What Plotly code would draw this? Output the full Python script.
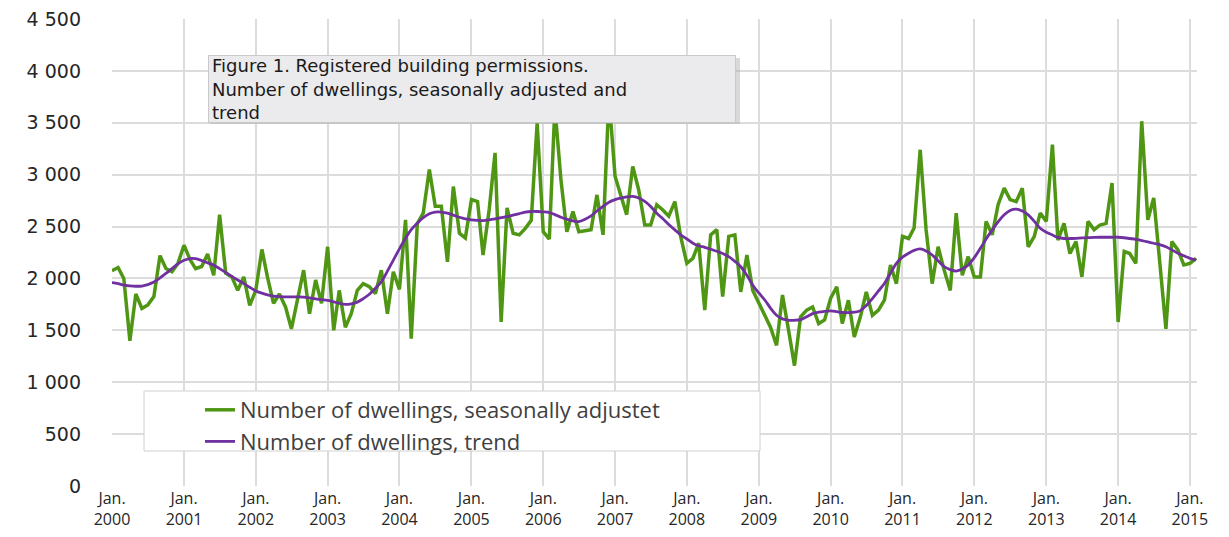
import pandas as pd
import plotly.graph_objects as go

# monthly values, Jan 2000 - Feb 2015
seasonal = [
    2075, 2105, 2000, 1400, 1850, 1710, 1745, 1825, 2220, 2095, 2065, 2145,
    2320, 2180, 2095, 2115, 2235, 2030, 2615, 2050, 2015, 1885, 2015, 1740,
    1885, 2280, 2015, 1760, 1850, 1725, 1515, 1800, 2080, 1660, 1985, 1760,
    2305, 1500, 1885, 1530, 1660, 1885, 1950, 1920, 1855, 2080, 1660, 2065,
    1895, 2565, 1420, 2530, 2630, 3050, 2695, 2695, 2160, 2885, 2435, 2390,
    2760, 2740, 2225, 2660, 3210, 1580, 2680, 2435, 2420, 2480, 2560, 3500,
    2450, 2380, 3650, 2950, 2450, 2645, 2450, 2460, 2470, 2805, 2420, 3750,
    2985, 2790, 2615, 3080, 2855, 2515, 2515, 2710, 2660, 2600, 2740, 2400,
    2145, 2195, 2340, 1695, 2420, 2470, 1825, 2405, 2420, 1870, 2225, 1885,
    1760, 1630, 1530, 1355, 1840, 1500, 1160, 1630, 1695, 1725, 1565, 1600,
    1810, 1920, 1565, 1790, 1435, 1630, 1870, 1645, 1695, 1790, 2130, 1950,
    2405, 2385, 2485, 3240, 2470, 1950, 2305, 2080, 1885, 2630, 2030, 2210,
    2015, 2015, 2550, 2420, 2710, 2870, 2760, 2740, 2870, 2305, 2405, 2630,
    2550, 3290, 2370, 2530, 2240, 2355, 2015, 2550, 2470, 2515, 2530, 2920,
    1580, 2260, 2240, 2145, 3515, 2565, 2775, 2150, 1515, 2355, 2275, 2130,
    2145, 2195,
]
trend = [
    1960, 1950, 1935, 1928, 1925, 1927, 1940, 1965, 2005, 2048, 2095, 2140,
    2175, 2192, 2190, 2172, 2150, 2128, 2095, 2058, 2020, 1985, 1950, 1915,
    1880, 1858, 1842, 1830, 1825, 1823, 1822, 1822, 1820, 1812, 1803, 1795,
    1788, 1775, 1760, 1750, 1755, 1772, 1805, 1848, 1905, 1968, 2070, 2177,
    2285, 2387, 2470, 2532, 2585, 2623, 2640, 2640, 2630, 2610, 2590, 2575,
    2565, 2560, 2558, 2565, 2575, 2585, 2595, 2610, 2625, 2638, 2645, 2645,
    2642, 2635, 2615, 2590, 2571, 2555, 2548, 2570, 2603, 2650, 2694, 2735,
    2760, 2775, 2785, 2790, 2775, 2742, 2694, 2629, 2575, 2520, 2468, 2420,
    2380, 2340, 2315, 2300, 2281, 2262, 2240, 2210, 2165, 2113, 2030, 1935,
    1860, 1790, 1715, 1645, 1610, 1597, 1597, 1603, 1630, 1661, 1675, 1683,
    1687, 1680, 1672, 1671, 1675, 1690, 1740, 1806, 1880, 1952, 2050, 2145,
    2205, 2242, 2270, 2284, 2265, 2226, 2170, 2113, 2085, 2071, 2090, 2129,
    2200, 2290, 2380, 2468, 2545, 2613, 2655, 2668, 2650, 2613, 2550, 2484,
    2445, 2419, 2395, 2385, 2385, 2387, 2390, 2393, 2396, 2397, 2397, 2397,
    2397, 2392, 2385, 2377, 2365, 2352, 2339, 2325, 2306, 2275, 2242, 2218,
    2194, 2177,
]
years = list(range(2000, 2016))
y_ticks = [0, 500, 1000, 1500, 2000, 2500, 3000, 3500, 4000, 4500]
y_labels = ["0", "500", "1 000", "1 500", "2 000", "2 500", "3 000", "3 500", "4 000", "4 500"]

months = pd.date_range("2000-01-01", periods=len(seasonal), freq="MS")

# page has an 8px body margin, so work in page pixels and shift
OFF = 8
W, H = 1229 - 2 * OFF, 537 - 2 * OFF
X0, X1, Y0, Y1 = 112, 1197, 19, 486      # plot area in page pixels
L, T = X0 - OFF, Y0 - OFF
R, B = W - (X1 - OFF), H - (Y1 - OFF)
pw, ph = X1 - X0, Y1 - Y0


def px(x):
    return (x - X0) / pw


def py(y):
    return (Y1 - y) / ph


fig = go.Figure()
fig.add_trace(go.Scatter(
    x=months, y=seasonal, mode="lines",
    line=dict(color="#4f9614", width=3.5),
    name="Number of dwellings, seasonally adjustet",
))
fig.add_trace(go.Scatter(
    x=months, y=trend, mode="lines",
    line=dict(color="#7030a0", width=2.8, shape="spline"),
    name="Number of dwellings, trend",
))

grid = "#dcdcdc"
fig.update_xaxes(
    range=["2000-01-01", "2015-02-06"],
    tickvals=[f"{y}-01-01" for y in years],
    ticktext=[f"Jan.<br>{y}" for y in years],
    showgrid=True, gridcolor=grid, gridwidth=1.5,
    showline=False, zeroline=False, ticks="",
    ticklabelstandoff=1, ticklabeloverflow="allow",
    tickfont=dict(family="Open Sans", size=16, color="#262626"),
)
fig.update_yaxes(
    range=[0, 4500],
    tickvals=y_ticks, ticktext=y_labels,
    showgrid=True, gridcolor=grid, gridwidth=1.5,
    zeroline=False, showline=False, ticks="",
    ticklabelstandoff=30, ticklabeloverflow="allow",
    tickfont=dict(family="DejaVu Sans", size=19, color="#262626"),
)

# legend frame
fig.add_shape(type="rect", xref="paper", yref="paper",
              x0=px(144), x1=px(760), y0=py(451), y1=py(391),
              line=dict(color="#d0d0d0", width=1), fillcolor="white", layer="above")
# title box shadow + box
fig.add_shape(type="rect", xref="paper", yref="paper",
              x0=px(210), x1=px(740), y0=py(124), y1=py(58),
              line=dict(width=0), fillcolor="rgba(170,170,170,0.45)", layer="above")
fig.add_annotation(
    xref="paper", yref="paper", x=px(208), y=py(55),
    xanchor="left", yanchor="top", align="left", valign="middle",
    text="Figure 1. Registered building permissions.<br>"
         "Number of dwellings, seasonally adjusted and<br>trend",
    showarrow=False, width=520, height=60, borderpad=3,
    bgcolor="#ebeaec", bordercolor="#c9c9c9", borderwidth=1,
    font=dict(family="DejaVu Sans", size=18, color="#1a1a1a"),
)

fig.update_layout(
    width=W, height=H,
    margin=dict(l=L, r=R, t=T, b=B, autoexpand=False),
    paper_bgcolor="white", plot_bgcolor="white",
    legend=dict(
        x=px(200), y=py(389), xanchor="left", yanchor="top",
        bgcolor="rgba(0,0,0,0)", borderwidth=0,
        font=dict(family="Open Sans", size=22, color="#404040"),
        tracegroupgap=0,
    ),
)
fig.write_html("out.html")
